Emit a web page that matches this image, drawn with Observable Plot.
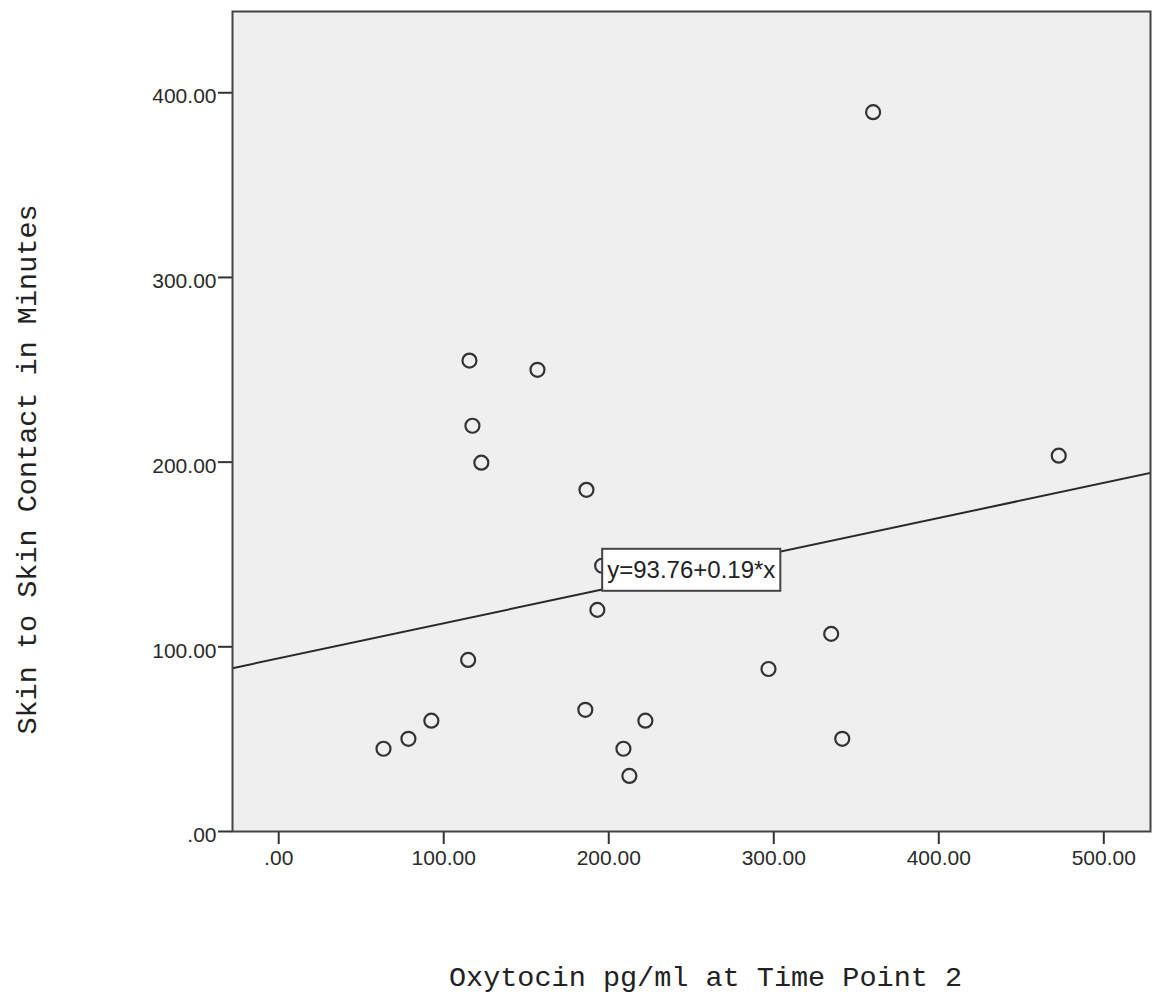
<!DOCTYPE html>
<html>
<head>
<meta charset="utf-8">
<script src="https://cdn.jsdelivr.net/npm/d3@7"></script>
<script src="https://cdn.jsdelivr.net/npm/@observablehq/plot@0.6"></script>
<style>
  html, body { margin: 0; padding: 0; background: #ffffff; }
  #chart svg { display: block; }
</style>
</head>
<body>
<div id="chart"></div>
<script>
// Oxytocin level (pg/ml) at time point 2 for each participant
const oxytocin = [63.5, 78.6, 92.5, 114.8, 115.6, 117.4, 122.8, 156.8, 186.5, 185.8,
                  193.1, 196.0, 208.9, 212.5, 222.2, 296.8, 334.8, 341.5, 360.2, 472.7];
// Skin-to-skin contact time (minutes) for the same participants
const minutes = [44.8, 50.2, 60.0, 92.9, 255.0, 219.7, 199.7, 250.0, 185.0, 65.9,
                 120.0, 143.9, 44.8, 30.1, 60.0, 88.0, 107.0, 50.2, 389.5, 203.5];

// Fitted linear regression: y = intercept + slope * x
const intercept = 93.76;
const slope = 0.19;
const equationText = "y=93.76+0.19*x";
const equationAtX = 250;

const xTicks = [0, 100, 200, 300, 400, 500];
const yTicks = [0, 100, 200, 300, 400];
const xDomain = [-28, 528.3];
const yDomain = [0, 444];

const xTitle = "Oxytocin pg/ml at Time Point 2";
const yTitle = "Skin to Skin Contact in Minutes";

const points = oxytocin.map((x, i) => ({x, y: minutes[i]}));
const fitLine = xDomain.map(x => ({x, y: intercept + slope * x}));
const equationLabel = [{x: equationAtX, y: intercept + slope * equationAtX, text: equationText}];

const fmt = d => d === 0 ? ".00" : d.toFixed(2);
const tickColor = "#333";
const labelColor = "#2a2a2a";

const chart = Plot.plot({
  width: 1152,
  height: 994,
  marginLeft: 232,
  marginRight: 2,
  marginTop: 11,
  marginBottom: 163,
  style: {fontFamily: "'Liberation Sans', Arial, sans-serif", background: "#ffffff"},
  x: {domain: xDomain},
  y: {domain: yDomain},
  marks: [
    Plot.frame({fill: "#efefef", stroke: "none"}),
    Plot.axisX({ticks: xTicks, tickFormat: fmt, tickSize: 13, tickPadding: 6,
                fontSize: 21, color: labelColor, stroke: tickColor, strokeWidth: 2, label: null}),
    // y tick marks
    Plot.axisY({ticks: yTicks, tickFormat: () => "", tickSize: 14,
                stroke: tickColor, strokeWidth: 2, label: null}),
    // y tick labels, sitting slightly below their ticks
    Plot.axisY({ticks: yTicks, tickFormat: fmt, tickSize: 0, tickPadding: 16, dy: 4,
                stroke: "none", fontSize: 21, color: labelColor, label: null}),
    Plot.dot(points, {x: "x", y: "y", r: 7, stroke: "#333", strokeWidth: 2.2, fill: "none"}),
    Plot.line(fitLine, {x: "x", y: "y", stroke: "#2a2a2a", strokeWidth: 2, clip: true}),
    Plot.text(equationLabel, {x: "x", y: "y", text: "text", fontSize: 24, fill: "#222",
                              textAnchor: "middle", lineAnchor: "middle"}),
    Plot.frame({stroke: "#444", strokeWidth: 2}),
    Plot.text([xTitle], {frameAnchor: "bottom", dx: 14, dy: 154, lineAnchor: "bottom",
                         textAnchor: "middle",
                         fontFamily: "'Liberation Mono', 'Courier New', monospace",
                         fontSize: 28.5, fill: "#222"}),
    Plot.text([yTitle], {frameAnchor: "left", rotate: -90, dx: -206, dy: 48,
                         textAnchor: "middle", lineAnchor: "middle",
                         fontFamily: "'Liberation Mono', 'Courier New', monospace",
                         fontSize: 28.5, fill: "#222"})
  ]
});

document.getElementById("chart").appendChild(chart);

// White box behind the regression equation, sized to its text
const eqText = Array.from(chart.querySelectorAll("text"))
  .find(t => t.textContent === equationText);
if (eqText) {
  const bb = eqText.getBBox();
  const cy = bb.y + bb.height / 2;
  const rect = document.createElementNS("http://www.w3.org/2000/svg", "rect");
  rect.setAttribute("x", bb.x - 5);
  rect.setAttribute("y", cy - 21);
  rect.setAttribute("width", bb.width + 10);
  rect.setAttribute("height", 42);
  rect.setAttribute("fill", "#ffffff");
  rect.setAttribute("stroke", "#444");
  rect.setAttribute("stroke-width", 2);
  const tr = eqText.getAttribute("transform");
  if (tr) rect.setAttribute("transform", tr);
  eqText.parentNode.insertBefore(rect, eqText);
}
</script>
</body>
</html>
